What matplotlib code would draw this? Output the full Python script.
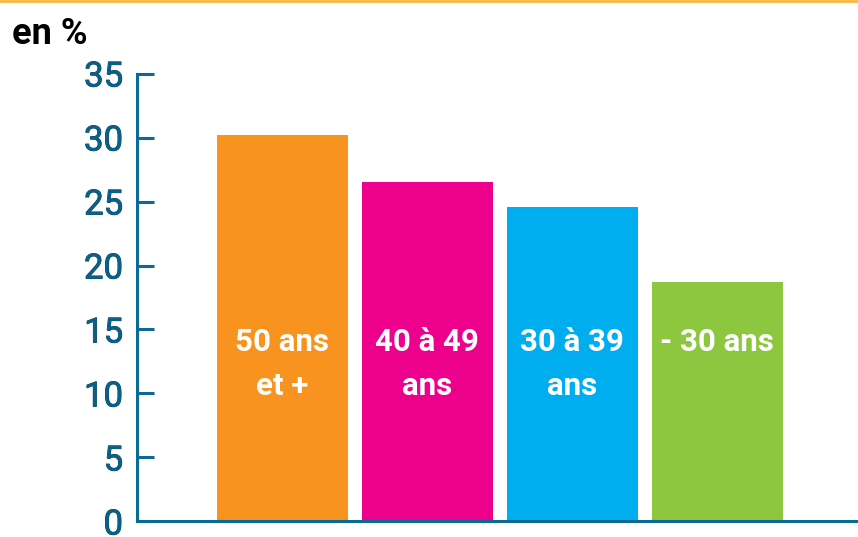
import matplotlib

matplotlib.use("Agg")

import matplotlib.pyplot as plt
from matplotlib.lines import Line2D
import matplotlib.patheffects as pe
import numpy as np

categories = ["50 ans\net +", "40 à 49\nans", "30 à 39\nans", "- 30 ans"]
values = [30.2, 26.5, 24.6, 18.7]
colors = ["#f7931e", "#ec008c", "#00aeef", "#8dc63f"]
yticks = [0, 5, 10, 15, 20, 25, 30, 35]

FONT = ["Roboto", "Liberation Sans", "DejaVu Sans"]
AXIS = "#0b6a93"
LABEL = "#0a6188"

plt.rcParams["font.family"] = FONT

fig = plt.figure(figsize=(8.58, 5.37), dpi=100)
ax = fig.add_axes([0.1597, 0.0289, 0.8403, 0.8342])

x = np.arange(len(values))
ax.bar(x, values, width=0.903, color=colors, zorder=2)

# each label line is placed on its own baseline, like the reference
for xi, label in zip(x, categories):
    for k, line in enumerate(label.split("\n")):
        ax.text(xi, 13.35 - 3.45 * k, line, ha="center", va="baseline",
                color="white", fontsize=22.5, fontweight="bold", zorder=3)

ax.set_xlim(-1.003, 3.97)
ax.set_ylim(0, 35)
ax.set_yticks(yticks)
ax.set_xticks([])

for side in ("top", "right"):
    ax.spines[side].set_visible(False)
for side in ("left", "bottom"):
    ax.spines[side].set_color(AXIS)
    ax.spines[side].set_linewidth(2.2)
    ax.spines[side].set_capstyle("projecting")

ax.tick_params(axis="y", direction="in", length=12, width=2.2, color=AXIS,
               pad=10, labelsize=25, labelcolor=LABEL)
for lab in ax.get_yticklabels():
    lab.set_path_effects([pe.withStroke(linewidth=0.6, foreground="#073f5c")])

fig.text(0.014, 0.937, "en %", fontsize=26, fontweight="bold", color="black",
         ha="left", va="center")

fig.add_artist(Line2D([0, 1], [0.998, 0.998], transform=fig.transFigure,
                      color="#f9b73b", linewidth=2))

fig.savefig("out.png", dpi=100)
plt.close(fig)
